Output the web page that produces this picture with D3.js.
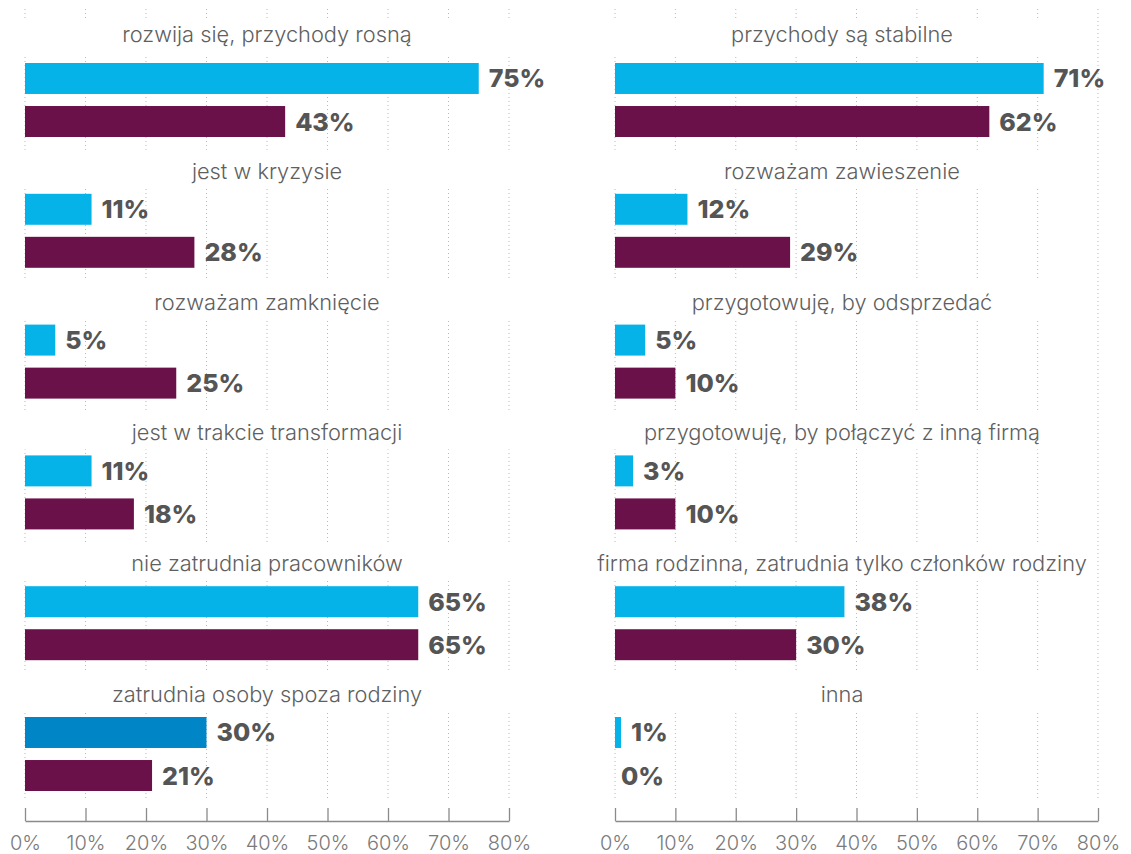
<!DOCTYPE html>
<html>
<head>
<meta charset="utf-8">
<script src="https://cdn.jsdelivr.net/npm/d3@7"></script>
<style>
  html, body { margin: 0; padding: 0; background: #fff; }
  svg { display: block; }
</style>
</head>
<body>
<svg id="chart" width="1131" height="854"></svg>
<script>
// Left panel categories and the two series
const leftCategories = [
  "rozwija się, przychody rosną",
  "jest w kryzysie",
  "rozważam zamknięcie",
  "jest w trakcie transformacji",
  "nie zatrudnia pracowników",
  "zatrudnia osoby spoza rodziny"
];
const leftSeriesA = [75, 11, 5, 11, 65, 30];
const leftSeriesB = [43, 28, 25, 18, 65, 21];

// Right panel categories and the two series
const rightCategories = [
  "przychody są stabilne",
  "rozważam zawieszenie",
  "przygotowuję, by odsprzedać",
  "przygotowuję, by połączyć z inną firmą",
  "firma rodzinna, zatrudnia tylko członków rodziny",
  "inna"
];
const rightSeriesA = [71, 12, 5, 3, 38, 1];
const rightSeriesB = [62, 29, 10, 10, 30, 0];

const tickValues = [0, 10, 20, 30, 40, 50, 60, 70, 80];

const colorA = "#05b3e8";
const colorAStrong = "#0086c7";
const colorB = "#6a1149";

const svg = d3.select("#chart");

const groupY = d3.scaleBand().domain(d3.range(6)).range([63, 63 + 6 * 130.8]).paddingInner(0).paddingOuter(0);
const seriesY = d3.scaleBand().domain(["a", "b"]).range([0, 74]).paddingInner(0.28).paddingOuter(0);

// title baseline offset above each group's first bar
const titleOffset = i => (i === 0 ? -21 : -15);

function drawPanel(opts) {
  const { categories, seriesA, seriesB, x0, x1, titleCenter, keepLastGrid, strongIndex } = opts;
  const x = d3.scaleLinear().domain([0, 80]).range([x0, x1]);
  const g = svg.append("g");

  // dotted vertical gridlines
  g.selectAll("line.grid").data(tickValues).join("line")
    .attr("class", "grid")
    .attr("x1", d => x(d)).attr("x2", d => x(d))
    .attr("y1", 9).attr("y2", 801)
    .attr("stroke", "#b9b9b9").attr("stroke-width", 1)
    .attr("stroke-dasharray", "1,3");

  // white bands behind the category titles
  const bandRight = keepLastGrid ? x(80) - 2 : x(80) + 3;
  g.selectAll("rect.band").data(categories).join("rect")
    .attr("x", x0 - 4)
    .attr("width", bandRight - (x0 - 4))
    .attr("y", (d, i) => groupY(i) - 44)
    .attr("height", 38)
    .attr("fill", "#fff");

  const groups = g.selectAll("g.cat").data(categories.map((c, i) => ({
    c, i, a: seriesA[i], b: seriesB[i]
  }))).join("g").attr("class", "cat")
    .attr("transform", d => `translate(0,${groupY(d.i)})`);

  // category title
  groups.append("text")
    .attr("x", titleCenter)
    .attr("y", d => titleOffset(d.i))
    .attr("text-anchor", "middle")
    .attr("font-family", "Inter, 'Open Sans', sans-serif")
    .attr("font-weight", 300)
    .attr("font-size", 21.8)
    .attr("fill", "#5f5f5f")
    .text(d => d.c)
    .each(function () {
      // keep long titles inside the page
      const w = this.getComputedTextLength();
      const right = titleCenter + w / 2;
      if (right > 1111) d3.select(this).attr("x", 1111 - w / 2);
    });

  const rows = groups.selectAll("g.row").data(d => [
    { key: "a", v: d.a, fill: d.i === strongIndex ? colorAStrong : colorA },
    { key: "b", v: d.b, fill: colorB }
  ]).join("g").attr("class", "row");

  rows.append("rect")
    .attr("x", x(0))
    .attr("y", d => seriesY(d.key))
    .attr("width", d => x(d.v) - x(0))
    .attr("height", seriesY.bandwidth())
    .attr("fill", d => d.fill);

  rows.append("text")
    .attr("x", d => x(d.v) + (d.v === 0 ? 6 : 10))
    .attr("y", d => seriesY(d.key) + seriesY.bandwidth() / 2)
    .attr("dy", "0.36em")
    .attr("font-family", "Inter, 'Open Sans', sans-serif")
    .attr("font-weight", 800)
    .attr("font-size", 25)
    .attr("fill", "#555555")
    .text(d => d.v + "%");

  // bottom axis with ticks pointing up
  const axis = d3.axisBottom(x).tickValues(tickValues).tickSize(-13).tickSizeOuter(0)
    .tickPadding(0).tickFormat(d => d + "%");
  const ax = g.append("g").attr("transform", "translate(0,821)").call(axis);
  ax.select(".domain").attr("stroke", "#8a8a8a").attr("stroke-width", 1.5);
  ax.selectAll(".tick line").attr("stroke", "#8a8a8a").attr("stroke-width", 1.3);
  ax.selectAll(".tick text")
    .attr("y", 22)
    .attr("dy", "0.36em")
    .attr("font-family", "Inter, 'Open Sans', sans-serif")
    .attr("font-weight", 300)
    .attr("font-size", 20)
    .attr("fill", "#7a7a7a");
}

drawPanel({
  categories: leftCategories, seriesA: leftSeriesA, seriesB: leftSeriesB,
  x0: 25, x1: 509, titleCenter: 267, keepLastGrid: false, strongIndex: 5
});
drawPanel({
  categories: rightCategories, seriesA: rightSeriesA, seriesB: rightSeriesB,
  x0: 615, x1: 1098, titleCenter: 842, keepLastGrid: true, strongIndex: -1
});
</script>
</body>
</html>
